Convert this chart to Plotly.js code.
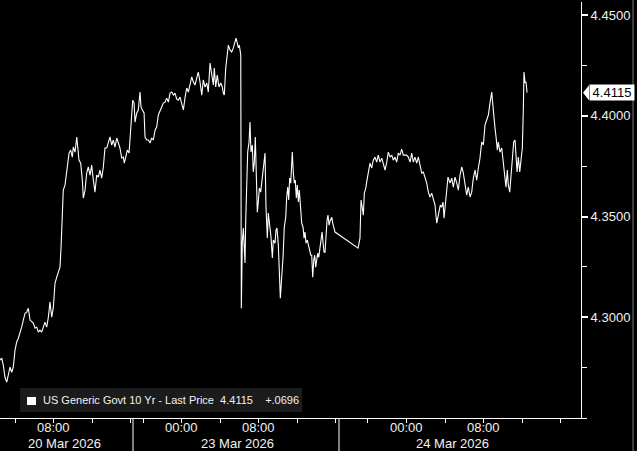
<!DOCTYPE html>
<html>
<head>
<meta charset="utf-8">
<script src="https://cdn.plot.ly/plotly-3.0.1.min.js"></script>
<style>html,body{margin:0;padding:0;background:#000;}#chart{width:637px;height:451px;}</style>
</head>
<body>
<div id="chart"></div>
<script>
// x = session hours since 20 Mar 2026 00:00 (overnight / weekend closures collapsed), y = yield (%)
const fri20 = [
[2.44,4.2787],[2.62,4.2797],[2.78,4.2762],[2.96,4.2702],[3.14,4.2678],[3.30,4.2722],[3.48,4.2752],[3.66,4.2727],[3.82,4.2752],[4.00,4.2837],
[4.17,4.2876],[4.34,4.2896],[4.52,4.2921],[4.69,4.2951],[4.86,4.2986],[5.04,4.3020],[5.21,4.3025],[5.38,4.3045],[5.56,4.2986],[5.73,4.2976],
[5.90,4.2971],[6.08,4.2946],[6.25,4.2951],[6.42,4.2926],[6.59,4.2936],[6.77,4.2926],[6.94,4.2951],[7.11,4.2976],[7.29,4.2951],[7.46,4.3000],
[7.63,4.3075],[7.81,4.3000],[7.98,4.3050],[8.15,4.3169],[8.33,4.3199],[8.49,4.3219],[8.67,4.3249],[8.78,4.3348],[8.91,4.3497],[9.01,4.3631],
[9.19,4.3656],[9.37,4.3716],[9.47,4.3770],[9.61,4.3815],[9.78,4.3830],[9.95,4.3795],[10.05,4.3845],[10.23,4.3820],[10.41,4.3895],[10.51,4.3845],
[10.64,4.3780],[10.82,4.3765],[10.99,4.3681],[11.09,4.3592],[11.27,4.3631],[11.44,4.3716],[11.61,4.3746],[11.79,4.3706],[11.96,4.3755],[12.13,4.3681],
[12.30,4.3621],[12.48,4.3706],[12.65,4.3696],[12.82,4.3731],[13.00,4.3691],[13.17,4.3746],[13.34,4.3840],[13.52,4.3840],[13.69,4.3865],[13.86,4.3895],
[14.04,4.3855],[14.21,4.3880],[14.38,4.3845],[14.56,4.3890],[14.73,4.3865],[14.90,4.3840],[15.08,4.3790],[15.25,4.3795],[15.35,4.3765],[15.49,4.3795],
[15.66,4.3830],[15.84,4.3815],[15.94,4.3895],[16.12,4.3994],[16.22,4.4078]
];
const mon23 = [
[16.36,4.4063],[16.46,4.3969],[16.64,4.4014],[16.80,4.4029],[16.98,4.4118],[17.08,4.4044],[17.22,4.4029],[17.40,4.4014],[17.50,4.3895],[17.68,4.3880],
[17.84,4.3880],[18.02,4.3865],[18.19,4.3890],[18.36,4.3880],[18.54,4.3929],[18.71,4.3944],[18.88,4.4004],[19.06,4.4029],[19.23,4.4044],[19.40,4.4063],
[19.58,4.4068],[19.75,4.4088],[19.92,4.4068],[20.10,4.4113],[20.27,4.4118],[20.44,4.4103],[20.61,4.4113],[20.79,4.4083],[20.96,4.4078],[21.13,4.4093],
[21.31,4.4063],[21.48,4.4029],[21.66,4.4093],[21.83,4.4138],[22.00,4.4118],[22.18,4.4153],[22.35,4.4193],[22.51,4.4168],[22.69,4.4153],[22.87,4.4188],
[23.03,4.4217],[23.21,4.4168],[23.39,4.4103],[23.55,4.4178],[23.73,4.4143],[23.91,4.4163],[24.07,4.4118],[24.25,4.4262],[24.42,4.4217],[24.59,4.4153],
[24.69,4.4237],[24.84,4.4143],[25.00,4.4202],[25.18,4.4143],[25.36,4.4163],[25.52,4.4143],[25.63,4.4113],[25.73,4.4103],[25.88,4.4237],[26.01,4.4302],
[26.15,4.4351],[26.32,4.4327],[26.50,4.4317],[26.67,4.4337],[26.84,4.4361],[26.95,4.4386],[27.08,4.4361],[27.19,4.4337],[27.29,4.4351],[27.44,4.4302],
[27.50,4.3045],[27.60,4.3373],[27.71,4.3443],[27.81,4.3358],[27.88,4.3269],[27.96,4.3492],[28.06,4.3671],[28.16,4.3820],[28.30,4.3870],[28.40,4.3969],
[28.50,4.3820],[28.64,4.3855],[28.74,4.3721],[28.85,4.3770],[28.95,4.3895],[29.05,4.3691],[29.16,4.3522],[29.26,4.3572],[29.37,4.3641],[29.51,4.3621],
[29.68,4.3696],[29.82,4.3770],[29.96,4.3815],[30.06,4.3547],[30.20,4.3393],[30.30,4.3517],[30.41,4.3467],[30.58,4.3398],[30.72,4.3294],[30.82,4.3383],
[31.00,4.3368],[31.10,4.3433],[31.20,4.3443],[31.34,4.3358],[31.44,4.3234],[31.55,4.3095],[31.69,4.3199],[31.83,4.3298],[31.96,4.3447],[32.11,4.3497],
[32.21,4.3597],[32.32,4.3646],[32.42,4.3582],[32.52,4.3691],[32.63,4.3666],[32.73,4.3731],[32.79,4.3820],[32.90,4.3716],[33.00,4.3666],[33.10,4.3681],
[33.21,4.3592],[33.31,4.3656],[33.42,4.3572],[33.52,4.3631],[33.62,4.3542],[33.77,4.3467],[33.91,4.3447],[34.01,4.3393],[34.11,4.3423],[34.22,4.3368],
[34.35,4.3383],[34.46,4.3358],[34.60,4.3333],[34.71,4.3308],[34.81,4.3308],[34.91,4.3199],[35.02,4.3284],[35.12,4.3308],[35.22,4.3249],[35.33,4.3294],
[35.43,4.3318],[35.54,4.3298],[35.67,4.3348],[35.77,4.3383],[35.88,4.3423],[35.98,4.3373],[36.09,4.3323],[36.19,4.3323],[36.29,4.3418],[36.40,4.3482],
[36.50,4.3507],[36.61,4.3457],[36.74,4.3482],[36.89,4.3497],[36.99,4.3467],[37.13,4.3433],[37.23,4.3423]
];
const tue24 = [
[39.62,4.3343],[39.82,4.3393],[39.93,4.3582],[40.06,4.3532],[40.17,4.3507],[40.27,4.3616],[40.42,4.3641],[40.55,4.3681],[40.68,4.3716],[40.86,4.3765],
[41.04,4.3741],[41.20,4.3780],[41.38,4.3795],[41.56,4.3770],[41.72,4.3805],[41.90,4.3770],[42.08,4.3790],[42.24,4.3765],[42.42,4.3731],[42.60,4.3770],
[42.76,4.3820],[42.94,4.3795],[43.12,4.3805],[43.28,4.3780],[43.46,4.3795],[43.63,4.3770],[43.80,4.3815],[43.98,4.3805],[44.15,4.3835],[44.32,4.3805],
[44.50,4.3805],[44.67,4.3805],[44.84,4.3795],[45.02,4.3770],[45.19,4.3815],[45.36,4.3770],[45.53,4.3795],[45.71,4.3765],[45.88,4.3795],[46.05,4.3746],
[46.23,4.3716],[46.40,4.3721],[46.57,4.3691],[46.75,4.3666],[46.92,4.3621],[47.09,4.3597],[47.27,4.3616],[47.44,4.3582],[47.61,4.3557],[47.79,4.3467],
[47.89,4.3492],[48.03,4.3532],[48.16,4.3557],[48.31,4.3547],[48.44,4.3572],[48.55,4.3492],[48.65,4.3542],[48.79,4.3631],[48.96,4.3696],[49.17,4.3666],
[49.35,4.3691],[49.51,4.3646],[49.69,4.3696],[49.87,4.3666],[50.03,4.3631],[50.21,4.3706],[50.39,4.3746],[50.55,4.3716],[50.73,4.3666],[50.90,4.3606],
[51.07,4.3646],[51.25,4.3597],[51.42,4.3621],[51.59,4.3691],[51.77,4.3731],[51.94,4.3681],[52.11,4.3741],[52.28,4.3790],[52.46,4.3870],[52.63,4.3855],
[52.80,4.3954],[52.98,4.3979],[53.15,4.4004],[53.32,4.4063],[53.50,4.4118],[53.60,4.4063],[53.74,4.3964],[53.84,4.3939],[53.95,4.3895],[54.08,4.3830],
[54.18,4.3870],[54.36,4.3820],[54.54,4.3840],[54.71,4.3765],[54.88,4.3716],[54.98,4.3646],[55.12,4.3731],[55.22,4.3656],[55.37,4.3621],[55.50,4.3691],
[55.64,4.3780],[55.78,4.3870],[55.92,4.3880],[56.02,4.3795],[56.13,4.3721],[56.26,4.3795],[56.41,4.3721],[56.54,4.3780],[56.68,4.3840],[56.78,4.4029],
[56.85,4.4217],[56.96,4.4163],[57.06,4.4168],[57.17,4.4115]
];
const seriesName = 'US Generic Govt 10 Yr - Last Price';
const lastPrice = 4.4115;
const netChange = '+.0696';
const yTicks = [4.30, 4.35, 4.40, 4.45];
const tickTimes = [4, 8, 12, 16, 17.29, 21.29, 25.29, 29.29, 33.29, 37.29, 40.65, 44.65, 48.65, 52.65, 56.65, 60.65];
const tickLabels = ['', '08:00', '', '', '', '00:00', '', '08:00', '', '', '', '00:00', '', '08:00', '', ''];
const dayBreaks = [16.25, 37.64];
const dayLabels = ['20 Mar 2026', '23 Mar 2026', '24 Mar 2026'];
const dayLabelTimes = [9.09, 27.05, 49.38];

const all = fri20.concat(mon23, tue24);
const FONT = 'Liberation Sans, Arial, sans-serif';
const H = 416; // plot height px
const pb = px => -px / H; // px below plot bottom -> paper y

const shapes = [];
dayBreaks.forEach(t => shapes.push({type:'line', xref:'x', yref:'paper', x0:t, x1:t, y0:0, y1:pb(33), line:{color:'#ffffff', width:1}}));
// right frame border
shapes.push({type:'line', xref:'paper', yref:'paper', x0:633/581, x1:633/581, y0:pb(33), y1:418/H, line:{color:'#3c3c3c', width:2}});
// legend background
shapes.push({type:'rect', xref:'paper', yref:'paper', x0:20/581, x1:302/581, y0:6/H, y1:30/H, fillcolor:'#1b1b1b', line:{width:0}, layer:'below'});
shapes.push({type:'rect', xref:'paper', yref:'paper', x0:27/581, x1:36/581, y0:13/H, y1:21/H, fillcolor:'#ffffff', line:{width:0}});
// last price pointer
const dy = 7.5 * 0.2065 / H;
shapes.push({type:'path', xref:'paper', yref:'y', path:`M ${583/581},${lastPrice} L ${589/581},${lastPrice+dy} L ${589/581},${lastPrice-dy} Z`, fillcolor:'#ffffff', line:{width:0}});

const annotations = [];
tickTimes.forEach((t, i) => {
  if (tickLabels[i]) annotations.push({
    text: tickLabels[i], x: t, xref:'x', y: pb(9.5), yref:'paper', showarrow:false,
    xanchor:'center', yanchor:'middle', font:{family:FONT, size:13, color:'#f2f2f2'}
  });
});
dayLabels.forEach((d, i) => annotations.push({
  text: d, x: dayLabelTimes[i], xref:'x', y: pb(25.5), yref:'paper', showarrow:false,
  xanchor:'center', yanchor:'middle', font:{family:FONT, size:13, color:'#f2f2f2'}
}));
annotations.push({
  text: seriesName + '&nbsp;&nbsp;' + lastPrice.toFixed(4) + '&nbsp;&nbsp;&nbsp;&nbsp;' + netChange,
  x: 41/581, xref:'paper', y: 18/H, yref:'paper', xanchor:'left', yanchor:'middle', showarrow:false,
  font:{family:FONT, size:11, color:'#f2f2f2'}
});
annotations.push({
  text: lastPrice.toFixed(4), x:1, xref:'paper', y:lastPrice, yref:'y', xanchor:'left', yanchor:'middle',
  xshift:8, showarrow:false, bgcolor:'#ffffff', borderpad:0, width:44, height:15,
  font:{family:FONT, size:13, color:'#000000'}
});

Plotly.newPlot('chart', [{
  type:'scatter', mode:'lines', name: seriesName,
  x: all.map(p => p[0]), y: all.map(p => p[1]),
  line:{color:'#ffffff', width:1.1}, hoverinfo:'skip'
}], {
  width:637, height:451,
  margin:{l:0, r:56, t:2, b:33, pad:0},
  paper_bgcolor:'#000000', plot_bgcolor:'#000000',
  showlegend:false,
  xaxis:{
    range:[2.44, 62.77], showgrid:false, zeroline:false,
    showline:true, linecolor:'#ffffff', linewidth:1,
    tickmode:'array', tickvals:tickTimes, showticklabels:false,
    ticks:'outside', ticklen:4, tickcolor:'#ffffff', tickwidth:1
  },
  yaxis:{
    side:'right', range:[4.25, 4.4565], showgrid:false, zeroline:false,
    showline:true, linecolor:'#ffffff', linewidth:1,
    tickmode:'array', tickvals:yTicks, ticktext:yTicks.map(v => v.toFixed(4)),
    ticks:'outside', ticklen:6, tickwidth:2, tickcolor:'#ffffff',
    minor:{tickmode:'linear', tick0:4.25, dtick:0.025, ticks:'outside', ticklen:5, tickcolor:'#ffffff', tickwidth:1, showgrid:false},
    tickfont:{family:FONT, size:13, color:'#f2f2f2'}
  },
  shapes: shapes,
  annotations: annotations
}, {staticPlot:true, displayModeBar:false});
</script>
</body>
</html>
